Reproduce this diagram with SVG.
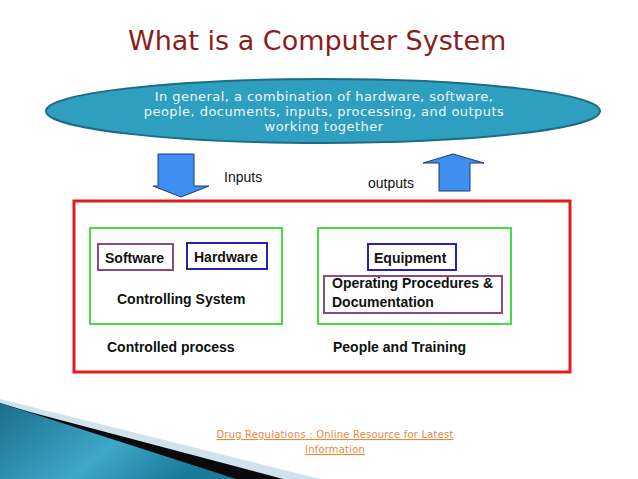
<svg xmlns="http://www.w3.org/2000/svg" width="638" height="479" viewBox="0 0 638 479">
  <style>
    .title { font-family: "DejaVu Sans", "Open Sans", sans-serif; font-size: 27px; fill: #8c1d1d; }
    .etext { font-family: "DejaVu Sans", "Open Sans", sans-serif; font-size: 13px; letter-spacing: 0.45px; fill: #eef6f9; text-anchor: middle; }
    .lbl { font-family: "Liberation Sans", Arial, sans-serif; font-size: 14px; fill: #111; }
    .blbl { font-family: "Liberation Sans", Arial, sans-serif; font-size: 14px; font-weight: bold; fill: #111; }
    .foot { font-family: "DejaVu Sans Condensed", "DejaVu Sans", sans-serif; font-stretch: condensed; font-size: 11px; letter-spacing: 0.25px; fill: #e8893a; text-anchor: middle; text-decoration: underline; }
    .arrow { fill: #3e8ff0; stroke: #1b3c6e; stroke-width: 1; }
    .green { fill: none; stroke: #44dd44; stroke-width: 2; }
    .purple { fill: #fff; stroke: #8a4c7c; stroke-width: 2; }
    .blue { fill: #fff; stroke: #2222bb; stroke-width: 2; }
  </style>
  <defs>
    <linearGradient id="teal" x1="0" y1="0" x2="1" y2="0.4">
      <stop offset="0" stop-color="#1b6e8a"/>
      <stop offset="0.6" stop-color="#3ea8c8"/>
      <stop offset="1" stop-color="#1a7a98"/>
    </linearGradient>
  </defs>
  <rect x="0" y="0" width="638" height="479" fill="#ffffff"/>

  <!-- decoration bottom-left -->
  <g id="decoration">
    <polygon points="0,399 320,479 0,479" fill="#cfe3ec"/>
    <polygon points="30,412 283,479 0,479 0,403" fill="#0a0a0a"/>
    <polygon points="0,403 236,479 0,479" fill="url(#teal)"/>
  </g>

  <g id="title">
    <text class="title" x="128" y="50">What is a Computer System</text>
  </g>

  <g id="definition">
    <ellipse cx="323" cy="111" rx="277" ry="32" fill="#2f9fc0" stroke="#1d6b85" stroke-width="2"/>
    <text class="etext" x="324" y="101">In general, a combination of hardware, software,</text>
    <text class="etext" x="324" y="116">people, documents, inputs, processing, and outputs</text>
    <text class="etext" x="324" y="131">working together</text>
  </g>

  <g id="connectors">
    <polygon class="arrow" points="158,154 194,154 194,186 209,186 181,197 153,186 158,186"/>
    <polygon class="arrow" points="453,154 484,163 470,163 470,191 439,191 439,163 423,163"/>
  </g>

  <g id="inputs-label">
    <text class="lbl" x="224" y="182">Inputs</text>
  </g>
  <g id="outputs-label">
    <text class="lbl" x="368" y="188">outputs</text>
  </g>

  <g id="controlled-process">
    <rect x="74" y="201" width="496" height="171" fill="none" stroke="#e11b1b" stroke-width="3"/>
    <text class="blbl" x="107" y="352">Controlled process</text>
    <text class="blbl" x="333" y="352">People and Training</text>
  </g>

  <g id="controlling-system">
    <rect class="green" x="90" y="228" width="192" height="96"/>
    <text class="blbl" x="117" y="304">Controlling System</text>
  </g>

  <g id="software">
    <rect class="purple" x="98" y="244" width="75" height="26"/>
    <text class="blbl" x="105" y="263">Software</text>
  </g>

  <g id="hardware">
    <rect class="blue" x="187" y="243" width="80" height="26"/>
    <text class="blbl" x="194" y="262">Hardware</text>
  </g>

  <g id="people-box">
    <rect class="green" x="318" y="228" width="193" height="96"/>
  </g>

  <g id="equipment">
    <rect class="blue" x="368" y="244" width="88" height="26"/>
    <text class="blbl" x="374" y="263">Equipment</text>
  </g>

  <g id="procedures">
    <rect class="purple" x="324" y="276" width="178" height="37"/>
    <text class="blbl" x="332" y="288">Operating Procedures &amp;</text>
    <text class="blbl" x="332" y="307">Documentation</text>
  </g>

  <g id="footer">
    <text class="foot" x="335" y="438">Drug Regulations : Online Resource for Latest</text>
    <text class="foot" x="335" y="453">Information</text>
  </g>
</svg>
